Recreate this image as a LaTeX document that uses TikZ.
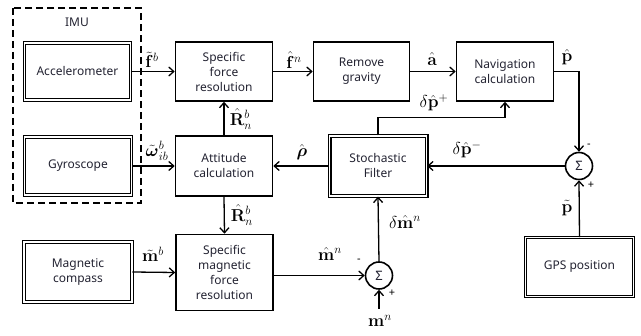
\documentclass[tikz,border=0pt]{standalone}
\usepackage{amsmath}
\usepackage[no-math]{fontspec}
\setmainfont{Noto Sans}
\usetikzlibrary{arrows.meta}
\definecolor{txt}{RGB}{35,35,50}
\begin{document}
\begin{tikzpicture}[x=1pt,y=-1pt,
  blk/.style={draw, line width=1.6pt, align=center, text=txt,
    font=\fontsize{12}{15}\selectfont, inner sep=0pt},
  dbl/.style={draw, double, line width=0.9pt, double distance=1.6pt, align=center,
    text=txt, font=\fontsize{12}{15}\selectfont, inner sep=0pt},
  sumc/.style={circle, draw, line width=1.6pt, minimum size=27pt, inner sep=0pt,
    font=\fontsize{13}{15}\selectfont, text=txt},
  arr/.style={-{Straight Barb[length=5pt,width=9pt]}, line width=1.3pt},
  lbl/.style={font=\fontsize{17}{19}\selectfont, inner sep=0pt},
  sgn/.style={font=\fontsize{11}{12}\selectfont\bfseries, inner sep=0pt}]
\useasboundingbox (0,0) rectangle (641,336);
% IMU
\draw[line width=1.6pt, dash pattern=on 7pt off 4pt] (13,8) rectangle (141,203);
\node[font=\fontsize{12}{14}\selectfont, text=txt] (imu) at (77,22) {IMU};
% blocks
\node[dbl, minimum width=106pt, minimum height=57pt] (acc) at (77.5,71.5) {Accelerometer};
\node[dbl, minimum width=107pt, minimum height=58pt] (gyro) at (78,166) {Gyroscope};
\node[dbl, minimum width=108pt, minimum height=60pt] (mag) at (78,272) {Magnetic\\compass};
\node[blk, minimum width=97pt, minimum height=59pt] (sfr) at (224,71.5) {Specific\\force\\resolution};
\node[blk, minimum width=97pt, minimum height=60pt] (att) at (224,166) {Attitude\\calculation};
\node[blk, minimum width=97pt, minimum height=76pt] (smfr) at (224.5,272.5) {Specific\\magnetic\\force\\resolution};
\node[blk, minimum width=96pt, minimum height=59pt] (rg) at (361.5,71.5) {Remove\\gravity};
\node[blk, minimum width=97pt, minimum height=59pt] (nav) at (505,71.5) {Navigation\\calculation};
\node[dbl, minimum width=97pt, minimum height=60pt, line width=1.2pt] (sf) at (378,166) {Stochastic\\Filter};
\node[dbl, minimum width=108pt, minimum height=59pt] (gps) at (579.5,267) {GPS position};
\node[sumc] (s1) at (579,166) {Σ};
\node[sumc] (s2) at (379,275.5) {Σ};
% connectors
\draw[arr] (acc.east) -- (sfr.west);
\draw[arr] (gyro.east) -- (att.west);
\draw[arr] (mag.east) -- (smfr.west);
\draw[arr] (sfr.east) -- (rg.west);
\draw[arr] (rg.east) -- (nav.west);
\draw[arr] (nav.east) -- (nav.east -| s1) -- (s1.north);
\draw[arr] (gps.north) -- (s1.south);
\draw[arr] (s1.west) -- (sf.east);
\draw[arr] (sf.north) -- ++(0,-18) -| (nav.south);
\draw[arr] (sf.west) -- (att.east);
\draw[arr] (att.north) -- (sfr.south);
\draw[arr] (att.south) -- (smfr.north);
\draw[arr] (s2.west -| smfr.east) -- (s2.west);
\node[lbl] (mn) at (380,321) {$\mathbf{m}^n$};
\coordinate (mnt) at (379,309);
\draw[arr] (mnt) -- (s2.south);
\draw[arr] (s2.north) -- (sf.south);
% labels
\node[lbl] (l1) at (152,60) {$\tilde{\mathbf{f}}^{b}$};
\node[lbl] (l2) at (294,60) {$\hat{\mathbf{f}}^{n}$};
\node[lbl] (l3) at (432,59) {$\hat{\mathbf{a}}$};
\node[lbl] (l4) at (567,57) {$\hat{\mathbf{p}}$};
\node[lbl] (l5) at (434,103) {$\delta\hat{\mathbf{p}}^{+}$};
\node[lbl] (l6) at (467,150) {$\delta\hat{\mathbf{p}}^{-}$};
\node[lbl] (l7) at (567,208) {$\tilde{\mathbf{p}}$};
\node[lbl] (l8) at (302,152) {$\hat{\boldsymbol{\rho}}$};
\node[lbl] (l9) at (241,119) {$\hat{\mathbf{R}}_{n}^{b}$};
\node[lbl] (l10) at (157,151) {$\tilde{\boldsymbol{\omega}}_{ib}^{b}$};
\node[lbl] (l11) at (242,215) {$\hat{\mathbf{R}}_{n}^{b}$};
\node[lbl] (l12) at (153,254) {$\tilde{\mathbf{m}}^{b}$};
\node[lbl] (l13) at (330,254) {$\hat{\mathbf{m}}^{n}$};
\node[lbl] (l14) at (405,222) {$\delta\hat{\mathbf{m}}^{n}$};
\node[sgn] (m1) at (589,146) {-};
\node[sgn] (p1) at (591,185) {+};
\node[sgn] (m2) at (359,261) {-};
\node[sgn] (p2) at (392,293) {+};
\end{tikzpicture}
\end{document}
